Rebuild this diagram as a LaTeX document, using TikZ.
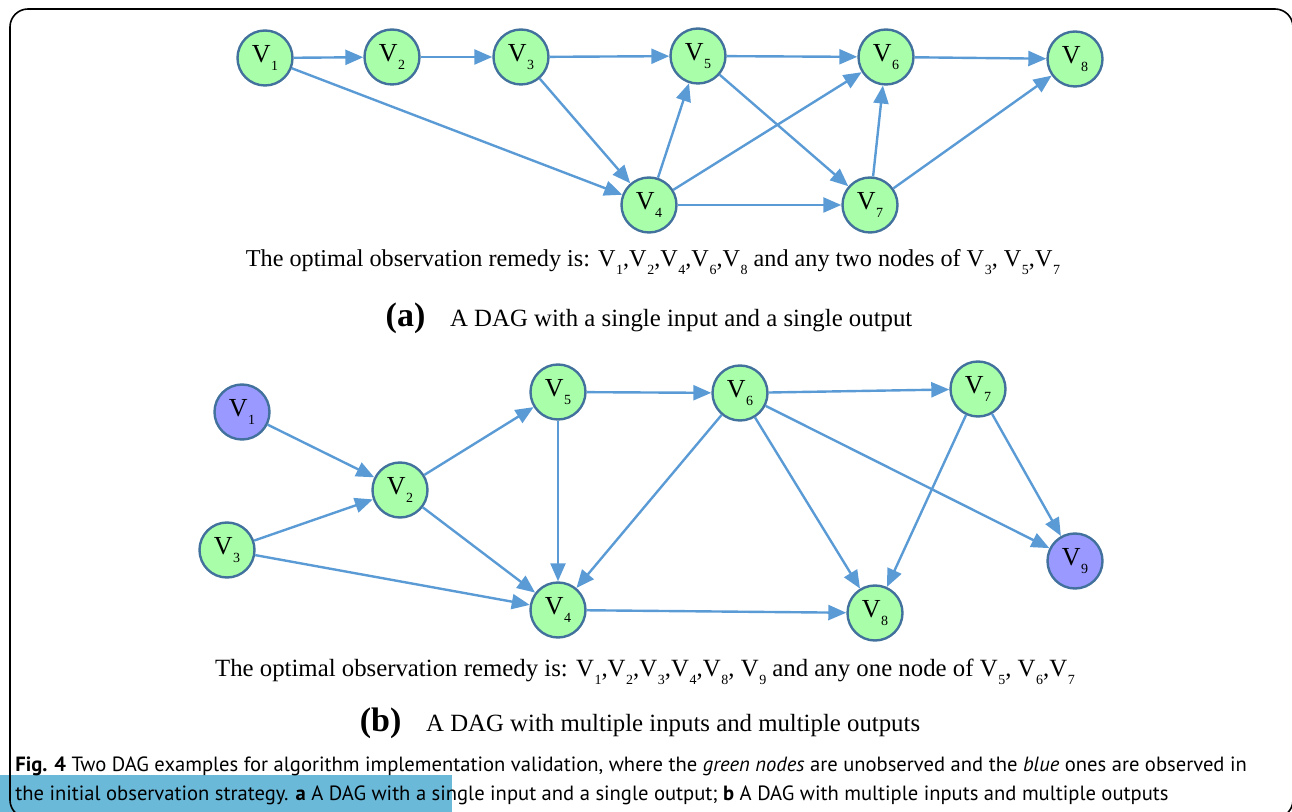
\documentclass[tikz,border=0pt]{standalone}
\usepackage{fontspec}
\setmainfont{Liberation Serif}
\newfontfamily\capfont{PT Sans}
\usetikzlibrary{arrows.meta, positioning}

\definecolor{nodegreen}{RGB}{169,255,169}
\definecolor{nodeblue}{RGB}{153,153,255}
\definecolor{rim}{RGB}{65,113,156}
\definecolor{arcblue}{RGB}{91,155,213}
\definecolor{marker}{RGB}{107,185,217}

% vertex label with a lowered index
\newcommand{\vn}[1]{V\kern.3pt\raisebox{-.32em}{\scriptsize #1}}

\begin{document}
\begin{tikzpicture}[x=0.5pt, y=-0.5pt,
    vertex/.style={circle, draw=rim, line width=1.2pt, fill=nodegreen,
        minimum size=27.5pt, inner sep=0pt, font=\fontsize{13}{15}\selectfont},
    seen/.style={vertex, fill=nodeblue},
    arc/.style={color=arcblue, line width=1.2pt,
        -{Triangle[length=9pt, width=7.5pt]}},
    remark/.style={font=\fontsize{12.4}{14}\selectfont},
    caption/.style={anchor=west, inner sep=0pt,
        font=\capfont\fontsize{10.3}{12}\selectfont}]
    \clip (0,0) rectangle (1292,812);

    % highlight strip and frame
    \fill[marker] (0,775) rectangle (452,812);
    \draw[line width=0.8pt, rounded corners=9pt] (10,9) rectangle (1293,818);

    % (a) single input, single output
    \node[vertex] (a1) at (265,58)  {\vn{1}};
    \node[vertex] (a2) at (392,57)  {\vn{2}};
    \node[vertex] (a3) at (521,57)  {\vn{3}};
    \node[vertex] (a5) at (698,56)  {\vn{5}};
    \node[vertex] (a6) at (886,57)  {\vn{6}};
    \node[vertex] (a8) at (1075,59) {\vn{8}};
    \node[vertex] (a4) at (649,205) {\vn{4}};
    \node[vertex] (a7) at (870,205) {\vn{7}};

    \path[arc]
        (a1) edge (a2)
        (a2) edge (a3)
        (a3) edge (a5)
        (a5) edge (a6)
        (a6) edge (a8)
        (a1) edge (a4)
        (a3) edge (a4)
        (a4) edge (a5)
        (a4) edge (a6)
        (a5) edge (a7)
        (a4) edge (a7)
        (a7) edge (a6)
        (a7) edge (a8)
        ;

    \node[remark, font=\fontsize{12.1}{14}\selectfont] (remA) at (653,262)
        {The optimal observation remedy is: \vn{1},\vn{2},\vn{4},\vn{6},\vn{8} and any two nodes of \vn{3}, \vn{5},\vn{7}};
    \node[remark] (subA) at (649,318)
        {{\fontsize{17}{19}\selectfont\bfseries (a)}\quad A DAG with a single input and a single output};

    % (b) multiple inputs, multiple outputs
    \node[seen]   (b1) at (242,412)  {\vn{1}};
    \node[vertex] (b2) at (400,490)  {\vn{2}};
    \node[vertex] (b3) at (227,550)  {\vn{3}};
    \node[vertex] (b5) at (558,392)  {\vn{5}};
    \node[vertex] (b6) at (740,393)  {\vn{6}};
    \node[vertex] (b7) at (978,389)  {\vn{7}};
    \node[seen]   (b9) at (1075,561) {\vn{9}};
    \node[vertex] (b4) at (558,610)  {\vn{4}};
    \node[vertex] (b8) at (875,613)  {\vn{8}};

    \path[arc]
        (b1) edge (b2)
        (b3) edge (b2)
        (b2) edge (b5)
        (b2) edge (b4)
        (b3) edge (b4)
        (b5) edge (b6)
        (b5) edge (b4)
        (b6) edge (b7)
        (b6) edge (b4)
        (b6) edge (b8)
        (b6) edge (b9)
        (b7) edge (b8)
        (b7) edge (b9)
        (b4) edge (b8)
        ;

    \node[remark] (remB) at (645,672)
        {The optimal observation remedy is: \vn{1},\vn{2},\vn{3},\vn{4},\vn{8}, \vn{9} and any one node of \vn{5}, \vn{6},\vn{7}};
    \node[remark] (subB) at (640,723)
        {{\fontsize{17}{19}\selectfont\bfseries (b)}\quad A DAG with multiple inputs and multiple outputs};

    % figure caption
    \node[caption] (cap1) at (15,766)
        {\textbf{Fig. 4} Two DAG examples for algorithm implementation validation, where the \textit{green nodes} are unobserved and the \textit{blue} ones are observed in};
    \node[caption] (cap2) at (15,795)
        {the initial observation strategy. \textbf{a} A DAG with a single input and a single output; \textbf{b} A DAG with multiple inputs and multiple outputs};
\end{tikzpicture}
\end{document}
